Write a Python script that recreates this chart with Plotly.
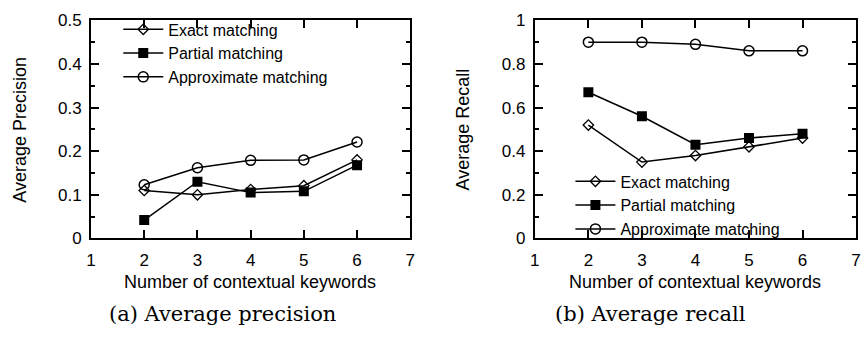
import plotly.graph_objects as go

keywords = [2, 3, 4, 5, 6]
series_names = ["Exact matching", "Partial matching", "Approximate matching"]

precision_exact = [0.11, 0.10, 0.112, 0.121, 0.18]
precision_partial = [0.042, 0.13, 0.105, 0.108, 0.168]
precision_approx = [0.123, 0.162, 0.179, 0.180, 0.221]

recall_exact = [0.52, 0.35, 0.38, 0.42, 0.46]
recall_partial = [0.67, 0.56, 0.43, 0.46, 0.48]
recall_approx = [0.90, 0.90, 0.89, 0.86, 0.86]

x_ticks = [1, 2, 3, 4, 5, 6, 7]
prec_ticks = [0, 0.1, 0.2, 0.3, 0.4, 0.5]
prec_tick_labels = ["0", "0.1", "0.2", "0.3", "0.4", "0.5"]
rec_ticks = [0, 0.2, 0.4, 0.6, 0.8, 1.0]
rec_tick_labels = ["0", "0.2", "0.4", "0.6", "0.8", "1"]

markers = [
    dict(symbol="diamond-open", size=8, color="black", line=dict(width=1.3, color="black")),
    dict(symbol="square", size=10, color="black", line=dict(width=0, color="black")),
    dict(symbol="circle-open", size=10, color="black", line=dict(width=1.5, color="black")),
]

FONT = "Liberation Sans, Arial, sans-serif"
fig = go.Figure()

prec = [precision_exact, precision_partial, precision_approx]
rec = [recall_exact, recall_partial, recall_approx]

for i, name in enumerate(series_names):
    fig.add_trace(go.Scatter(
        x=keywords, y=prec[i], name=name, mode="lines+markers",
        line=dict(color="black", width=1.5), marker=markers[i],
        xaxis="x", yaxis="y", legend="legend",
    ))
for i, name in enumerate(series_names):
    fig.add_trace(go.Scatter(
        x=keywords, y=rec[i], name=name, mode="lines+markers",
        line=dict(color="black", width=1.5), marker=markers[i],
        xaxis="x2", yaxis="y2", legend="legend2",
    ))

common_x = dict(
    range=[1, 7], tickvals=x_ticks, ticks="inside", ticklen=8, tickwidth=1.5,
    tickcolor="black", showline=True, linecolor="black", linewidth=2,
    mirror="allticks", showgrid=False, zeroline=False,
    tickfont=dict(family=FONT, size=17, color="black"), ticklabelstandoff=5,
)
common_y = dict(
    ticks="inside", ticklen=8, tickwidth=1.5, tickcolor="black",
    showline=True, linecolor="black", linewidth=2, mirror="allticks",
    showgrid=False, zeroline=False,
    tickfont=dict(family=FONT, size=17, color="black"), ticklabelstandoff=4,
)

ydom = [1 - 243 / 340, 1 - 12 / 340]
fig.update_layout(
    width=868, height=340, margin=dict(l=0, r=0, t=0, b=0),
    paper_bgcolor="white", plot_bgcolor="white", showlegend=True,
    xaxis=dict(domain=[87 / 868, 410 / 868], anchor="y", **common_x),
    yaxis=dict(domain=ydom, anchor="x", range=[0, 0.5], tickvals=prec_ticks,
               ticktext=prec_tick_labels,
               minor=dict(dtick=0.05, ticks="inside", ticklen=4, tickwidth=1.5, tickcolor="black"),
               **common_y),
    xaxis2=dict(domain=[536 / 868, 861 / 868], anchor="y2", **common_x),
    yaxis2=dict(domain=ydom, anchor="x2", range=[0, 1], tickvals=rec_ticks,
                ticktext=rec_tick_labels,
                minor=dict(dtick=0.1, ticks="inside", ticklen=4, tickwidth=1.5, tickcolor="black"),
                **common_y),
    legend=dict(x=0.132, y=1 - 47 / 340, xanchor="left", yanchor="middle",
                bgcolor="rgba(0,0,0,0)", font=dict(family=FONT, size=16, color="black"),
                tracegroupgap=0, itemwidth=40),
    legend2=dict(x=0.659, y=1 - 208 / 340, xanchor="left", yanchor="middle",
                 bgcolor="rgba(0,0,0,0)", font=dict(family=FONT, size=16, color="black"),
                 tracegroupgap=0, itemwidth=40),
)

annots = [
    dict(text="Number of contextual keywords", x=248 / 868, y=1 - 289 / 340, font_size=18),
    dict(text="Number of contextual keywords", x=698 / 868, y=1 - 289 / 340, font_size=18),
    dict(text="Average Precision", x=15 / 868, y=1 - 128 / 340, font_size=18, textangle=-90),
    dict(text="Average Recall", x=463 / 868, y=1 - 128 / 340, font_size=18, textangle=-90),
]
for a in annots:
    fig.add_annotation(xref="paper", yref="paper", showarrow=False,
                       xanchor="center", yanchor="middle",
                       font=dict(family=FONT, size=a.pop("font_size"), color="black"), **a)

for text, cx in [("(a) Average precision", 220), ("(b) Average recall", 653)]:
    fig.add_annotation(xref="paper", yref="paper", showarrow=False,
                       xanchor="center", yanchor="middle", x=cx / 868, y=1 - 323 / 340,
                       text=text, font=dict(family="DejaVu Serif", size=21, color="black"))

fig.write_html("out.html", config={"displayModeBar": False},
               post_script="document.body.style.margin='0';document.body.style.overflow='hidden';")
